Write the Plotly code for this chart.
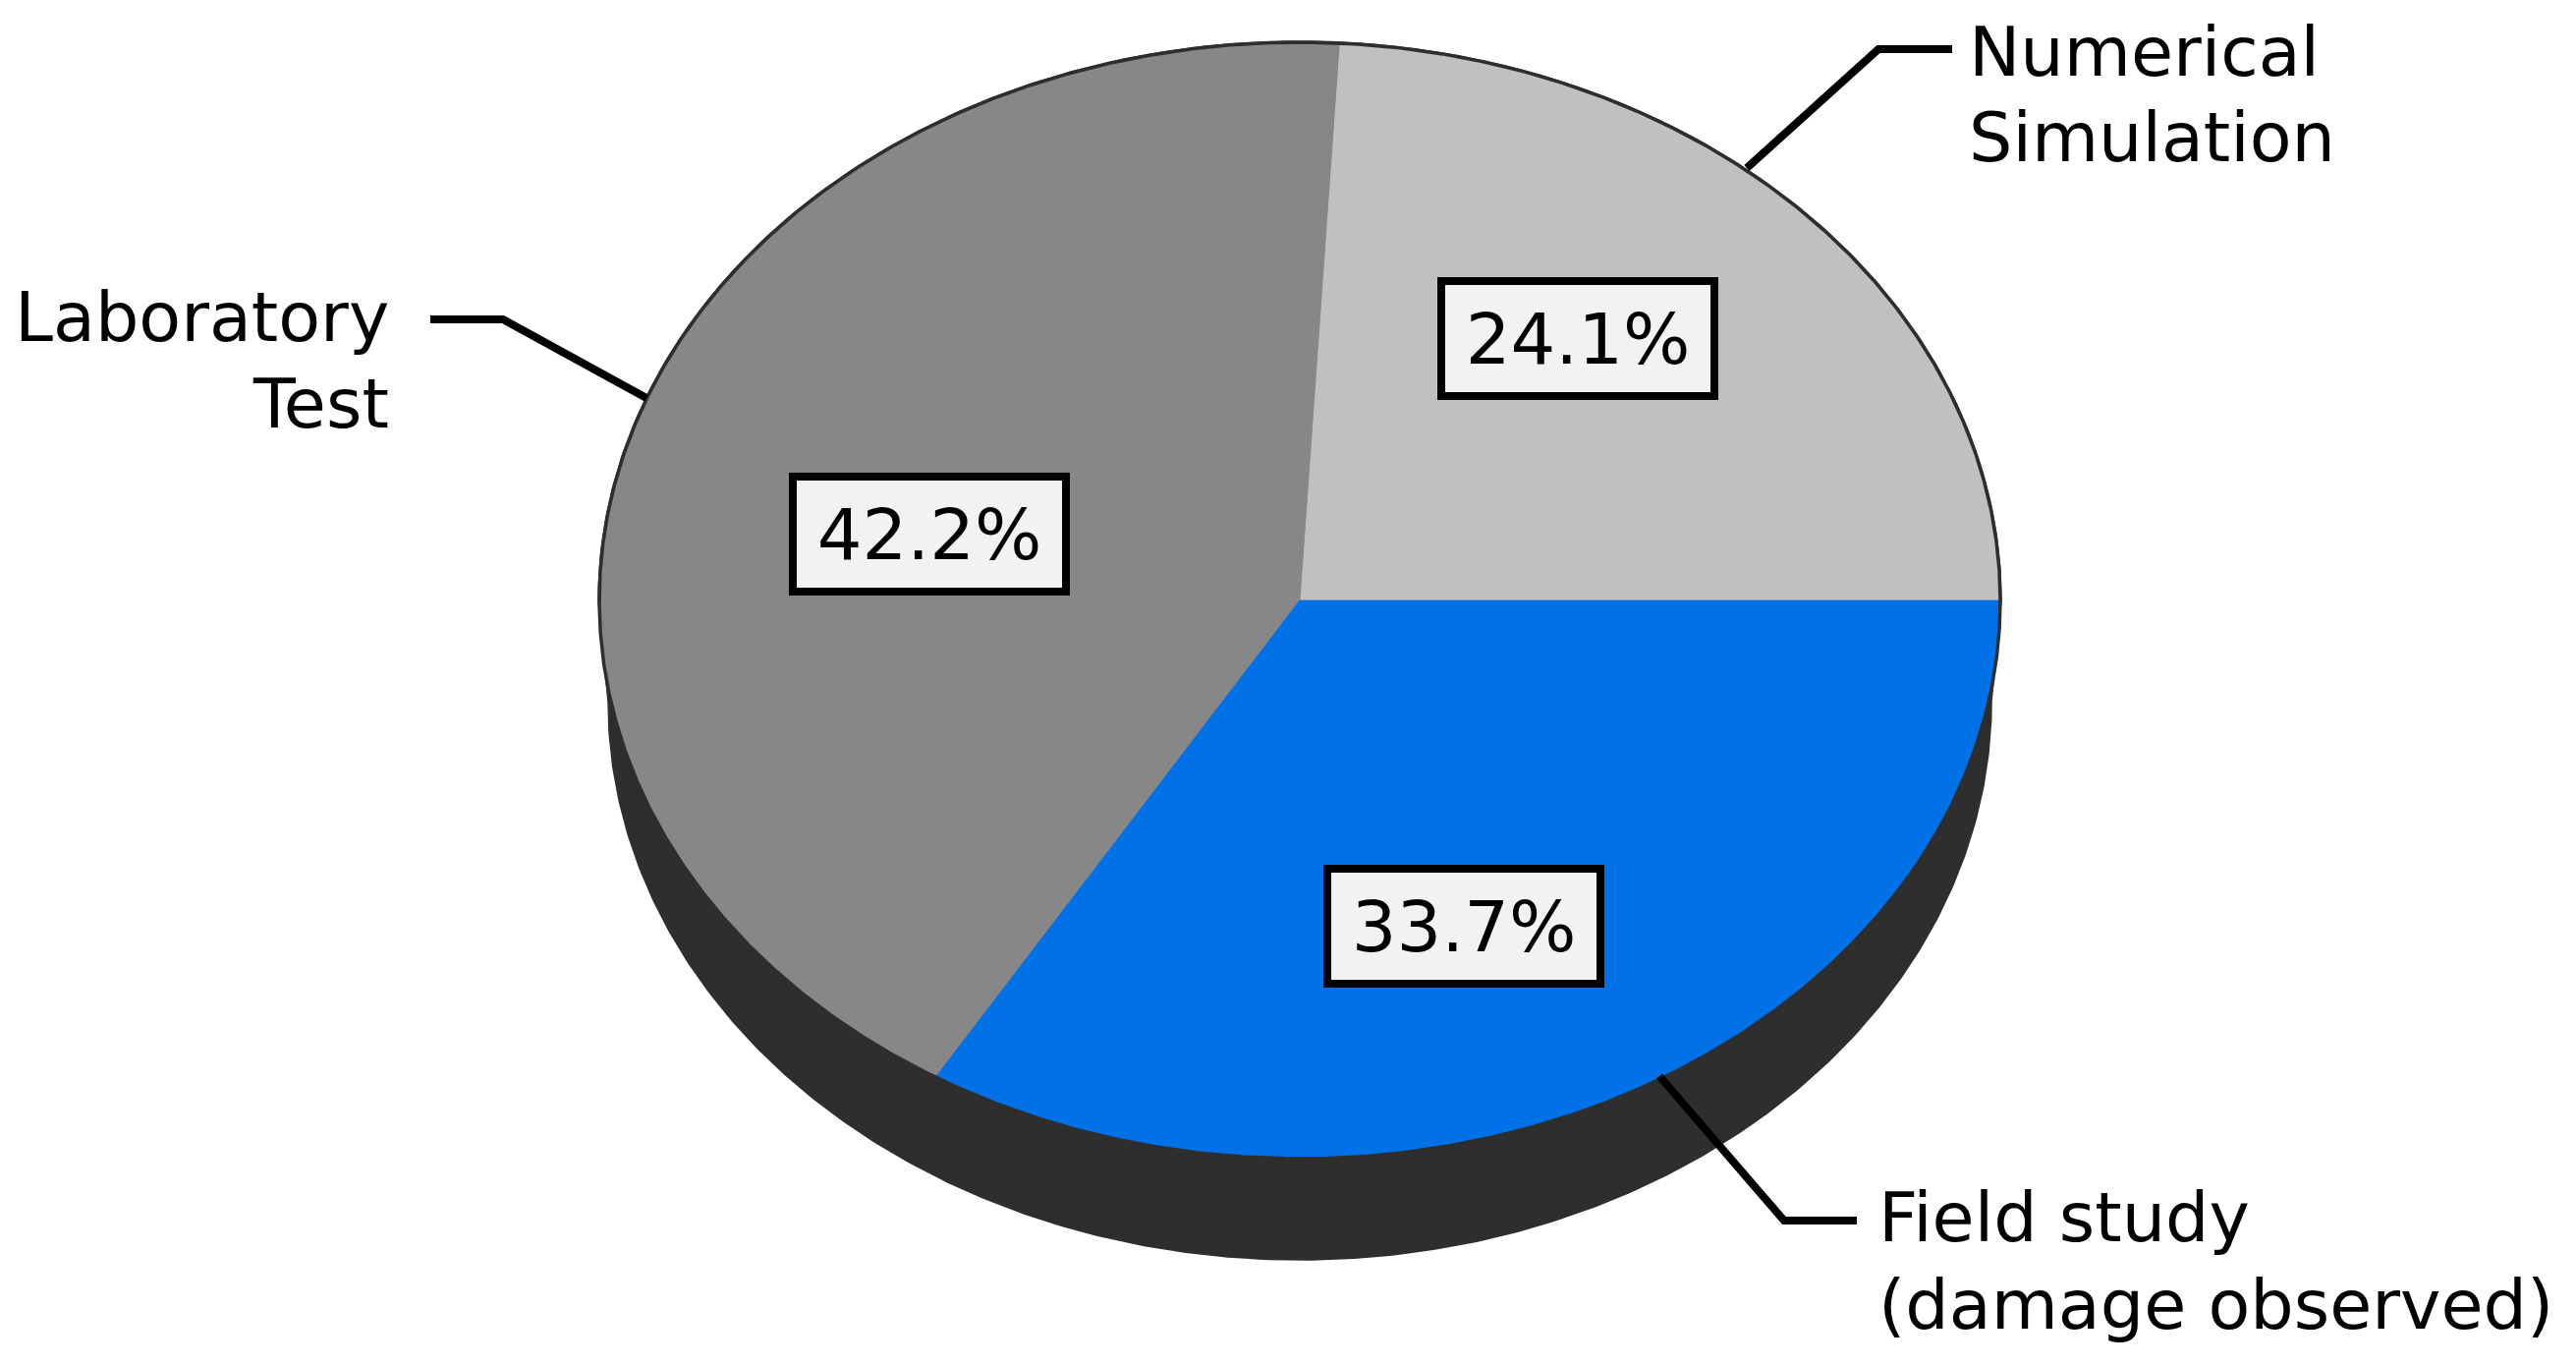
import numpy as np
import plotly.graph_objects as go

# ---------------- data ----------------
categories = ["Numerical Simulation", "Laboratory Test", "Field study (damage observed)"]
values = [24.1, 42.2, 33.7]
pct_labels = ["24.1%", "42.2%", "33.7%"]
label_lines = [["Numerical", "Simulation"], ["Laboratory", "Test"], ["Field study", "(damage observed)"]]
slice_colors = ["#c0c0c0", "#878787", "#0071e6"]

# ---------------- geometry / style (pixel space) ----------------
W, H = 2622, 1390
PAD = 8                     # default page body margin
CX, CY = 1323, 611          # centre of top face
RX, RY = 713, 568           # radii of top face
DEPTH = 103                 # vertical thickness
RXB, RYB = 703, 567         # radii of bottom face (slight perspective)
SIDE = "#2e2e2e"
EDGE_W = 3.5

fig = go.Figure()

def ell(theta_deg, cx, cy, rx, ry):
    t = np.radians(theta_deg)
    return cx + rx * np.cos(t), cy - ry * np.sin(t)

# side (extrusion)
t_top = np.linspace(0, 180, 361)
t_bot = np.linspace(180, 360, 361)
xt, yt = ell(t_top, CX, CY, RX, RY)
xb, yb = ell(t_bot, CX, CY + DEPTH, RXB, RYB)
fig.add_trace(go.Scatter(x=np.r_[xt, xb, xt[0]], y=np.r_[yt, yb, yt[0]], mode="lines",
                         fill="toself", fillcolor=SIDE, line=dict(color=SIDE, width=EDGE_W),
                         hoverinfo="skip", showlegend=False))

# slices on top face, counter-clockwise from 3 o'clock
total = float(sum(values))
bounds = np.cumsum([0.0] + list(values)) / total * 360.0
for i, v in enumerate(values):
    a0, a1 = bounds[i], bounds[i + 1]
    th = np.linspace(a0, a1, max(int((a1 - a0) * 3), 20))
    xs, ys = ell(th, CX, CY, RX, RY)
    fig.add_trace(go.Scatter(x=np.r_[CX, xs, CX], y=np.r_[CY, ys, CY], mode="lines",
                             fill="toself", fillcolor=slice_colors[i],
                             line=dict(color=slice_colors[i], width=0.8),
                             name=categories[i], hoverinfo="skip", showlegend=False))

# outline of top face
th = np.linspace(0, 360, 1441)
xo, yo = ell(th, CX, CY, RX, RY)
fig.add_trace(go.Scatter(x=xo, y=yo, mode="lines", line=dict(color=SIDE, width=EDGE_W),
                         hoverinfo="skip", showlegend=False))

# leader lines
leaders = [
    [(1778, 171), (1912, 50), (1987, 50)],
    [(658, 405), (512, 325), (438, 325)],
    [(1689, 1095), (1816, 1242), (1890, 1242)],
]
for pts in leaders:
    fig.add_trace(go.Scatter(x=[p[0] for p in pts], y=[p[1] for p in pts], mode="lines",
                             line=dict(color="black", width=8), hoverinfo="skip", showlegend=False))

FONT = "DejaVu Sans, Verdana, sans-serif"
annotations = []
# category labels
label_pos = [
    (2002, [53, 140], "left"),
    (398, [323, 411], "right"),
    (1910, [1239, 1328], "left"),
]
for lines, (x, ys, anchor) in zip(label_lines, label_pos):
    for txt, y in zip(lines, ys):
        annotations.append(dict(x=x, y=y, xref="x", yref="y", text=txt, showarrow=False,
                                xanchor=anchor, yanchor="middle",
                                font=dict(family=FONT, size=70, color="black")))

# percentage boxes
box_pos = [(1606, 344), (946, 543), (1490, 942)]
for txt, (x, y) in zip(pct_labels, box_pos):
    annotations.append(dict(x=x, y=y, xref="x", yref="y", text=txt, showarrow=False,
                            xanchor="center", yanchor="middle", width=270, height=109,
                            bgcolor="#f2f2f2", bordercolor="black", borderwidth=8, borderpad=0,
                            font=dict(family=FONT, size=72, color="black")))

fig.update_layout(
    width=W - 2 * PAD, height=H - 2 * PAD, margin=dict(l=0, r=0, t=0, b=0),
    paper_bgcolor="white", plot_bgcolor="white",
    xaxis=dict(range=[PAD, W - PAD], visible=False, fixedrange=True),
    yaxis=dict(range=[H - PAD, PAD], visible=False, fixedrange=True),
    annotations=annotations, showlegend=False,
)

fig.write_html("out.html")
